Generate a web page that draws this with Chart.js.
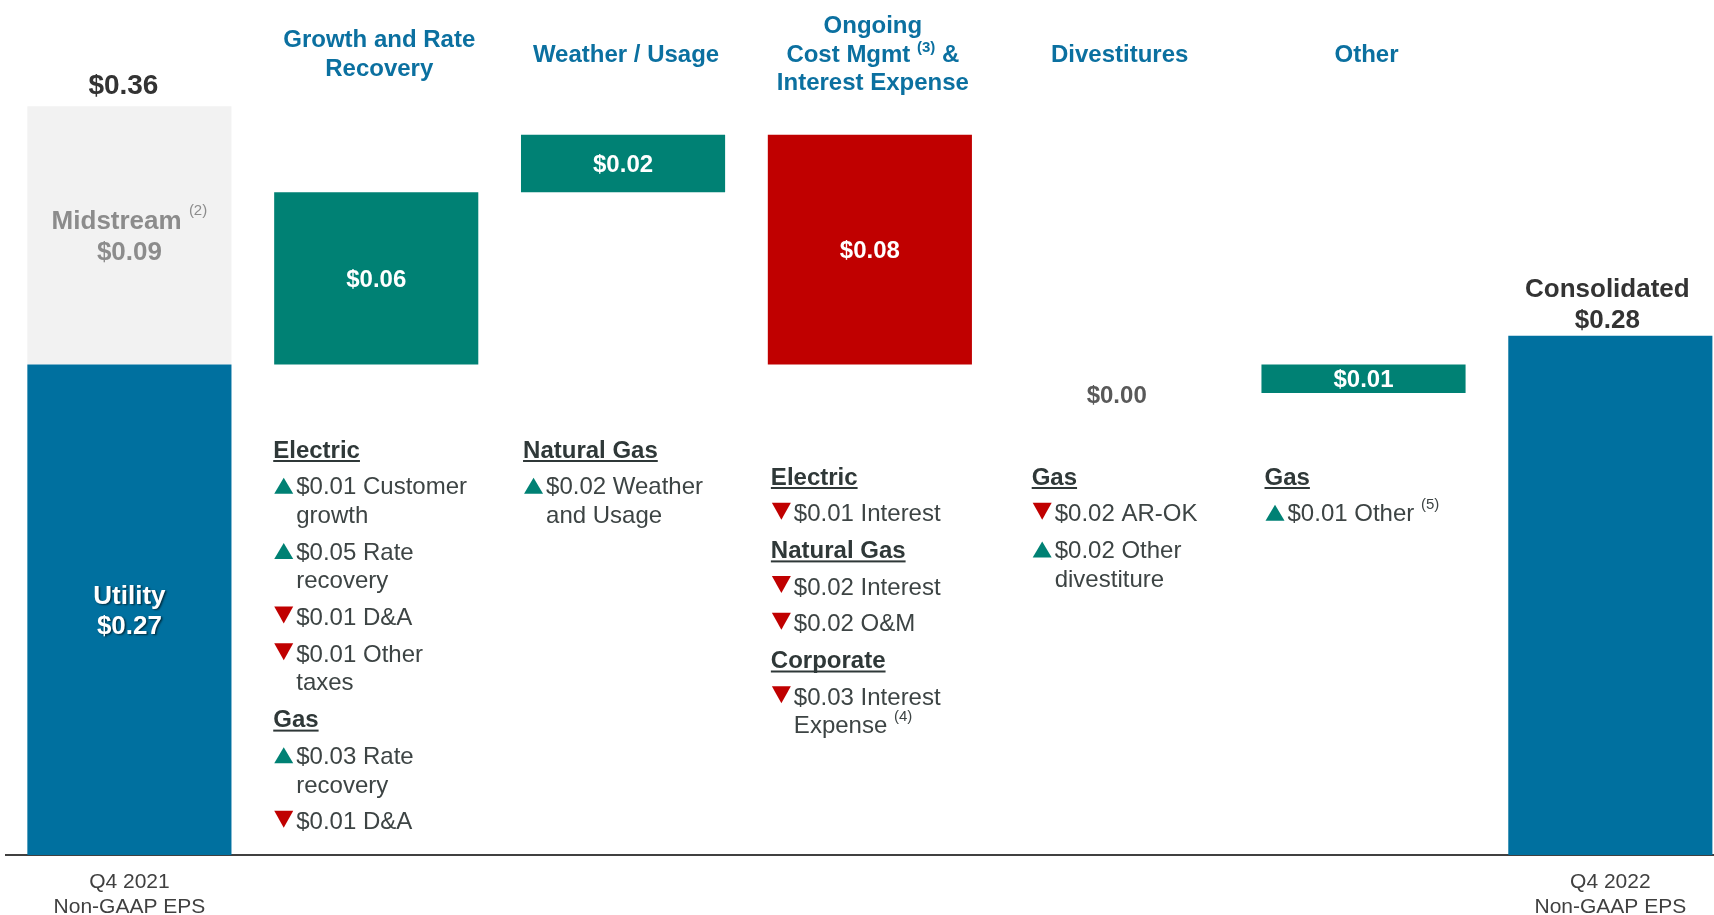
<!DOCTYPE html>
<html>
<head>
<meta charset="utf-8">
<script src="https://cdn.jsdelivr.net/npm/chart.js@4.4.0/dist/chart.umd.min.js"></script>
<style>
  html, body { margin: 0; padding: 0; background: #fff; overflow: hidden; }
</style>
</head>
<body>
<canvas id="eps" width="1714" height="915"></canvas>
<script>
// EPS bridge, Q4 2021 -> Q4 2022 (non-GAAP)
const categories = ['Q4 2021 Non-GAAP EPS', 'Growth and Rate Recovery', 'Weather / Usage',
    'Ongoing Cost Mgmt & Interest Expense', 'Divestitures', 'Other', 'Q4 2022 Non-GAAP EPS'];
const stepStart = [0, 0.27, 0.33, 0.35, 0.27, 0.26, 0];
const stepEnd   = [0.27, 0.33, 0.35, 0.27, 0.27, 0.27, 0.28];
const changes   = [0.36, 0.06, 0.02, -0.08, 0.00, 0.01, 0.28];
const midstream = [0.27, 0.36];
const xLabels = [['Q4 2021', 'Non-GAAP EPS'], '', '', '', '', '', ['Q4 2022', 'Non-GAAP EPS']];

// {n} = footnote mark
const titles = [null, ['Growth and Rate', 'Recovery'], ['Weather / Usage'],
    ['Ongoing', 'Cost Mgmt {3} &', 'Interest Expense'], ['Divestitures'], ['Other'], null];

const notes = [
    null,
    [['h', 'Electric'], ['up', '$0.01 Customer', 'growth'], ['up', '$0.05 Rate', 'recovery'],
     ['down', '$0.01 D&A'], ['down', '$0.01 Other', 'taxes'], ['h', 'Gas'],
     ['up', '$0.03 Rate', 'recovery'], ['down', '$0.01 D&A']],
    [['h', 'Natural Gas'], ['up', '$0.02 Weather', 'and Usage']],
    [['h', 'Electric'], ['down', '$0.01 Interest'], ['h', 'Natural Gas'], ['down', '$0.02 Interest'],
     ['down', '$0.02 O&M'], ['h', 'Corporate'], ['down', '$0.03 Interest', 'Expense {4}']],
    [['h', 'Gas'], ['down', '$0.02 AR-OK'], ['up', '$0.02 Other', 'divestiture']],
    [['h', 'Gas'], ['up', '$0.01 Other {5}']],
    null
];

const FONT = '"Liberation Sans", Arial, Helvetica, sans-serif';
const BLUE = '#00709F', TEAL = '#008174', RED = '#C00000';
const noteX = [0, -102, -99, -98, -84, -98, 0];
const noteTop = [0, 449, 449, 476, 476, 476, 0];

const money = v => '$' + Math.abs(v).toFixed(2);

function runs(str) {
    return str.split(/(\{\d\})/).filter(s => s).map(s =>
        s[0] === '{' ? {t: '(' + s.slice(1, -1) + ')', sup: true} : {t: s, sup: false});
}

// y is the visual middle of the capitals; rise lifts the footnote mark's middle
function drawText(ctx, str, x, y, size, weight, align, supWeight, rise) {
    const font = weight + ' ' + size + 'px ' + FONT;
    const supFont = (supWeight || 'normal') + ' 15px ' + FONT;
    const parts = runs(str);
    let w = 0;
    parts.forEach(p => { ctx.font = p.sup ? supFont : font; p.w = ctx.measureText(p.t).width; w += p.w; });
    let cx = align === 'center' ? x - w / 2 : x;
    ctx.textAlign = 'left';
    ctx.textBaseline = 'alphabetic';
    parts.forEach(p => {
        ctx.font = p.sup ? supFont : font;
        ctx.fillText(p.t, cx, p.sup ? y - rise + 3.9 : y + 0.358 * size);
        cx += p.w;
    });
    return w;
}

function triangle(ctx, x, y, up) {
    ctx.beginPath();
    if (up) {
        ctx.moveTo(x + 9.5, y - 8); ctx.lineTo(x + 19, y + 8); ctx.lineTo(x, y + 8);
    } else {
        ctx.moveTo(x, y - 10); ctx.lineTo(x + 19, y - 10); ctx.lineTo(x + 9.5, y + 7);
    }
    ctx.closePath();
    ctx.fillStyle = up ? TEAL : RED;
    ctx.fill();
}

const annotate = {
    id: 'annotate',
    afterDatasetsDraw(chart) {
        const {ctx, chartArea} = chart;
        const bars = chart.getDatasetMeta(0).data;
        const mid = chart.getDatasetMeta(1).data[0];
        const top = b => Math.min(b.y, b.base), bot = b => Math.max(b.y, b.base);
        ctx.save();

        // headings
        ctx.fillStyle = '#0B70A0';
        titles.forEach((lines, i) => {
            if (!lines) return;
            const y0 = 53 - (lines.length - 1) * 28.5 / 2;
            lines.forEach((s, k) => drawText(ctx, s, bars[i].x + 3, y0 + k * 28.5, 24, 'bold', 'center', 'bold', 5));
        });

        // Q4 2021 column
        const b0 = bars[0];
        ctx.fillStyle = '#333333';
        drawText(ctx, money(changes[0]), b0.x - 6, top(mid) - 22, 28, 'bold', 'center');
        const mc = (top(mid) + bot(mid)) / 2;
        ctx.fillStyle = '#8C8C8C';
        drawText(ctx, 'Midstream {2}', b0.x, mc - 15.5, 26, 'bold', 'center', 'normal', 9);
        drawText(ctx, money(midstream[1] - midstream[0]), b0.x, mc + 15.5, 26, 'bold', 'center');
        const uc = (top(b0) + Math.min(bot(b0), chartArea.bottom)) / 2;
        ctx.save();
        ctx.shadowColor = 'rgba(0,0,0,0.6)';
        ctx.shadowOffsetX = 1.5; ctx.shadowOffsetY = 1.5; ctx.shadowBlur = 2;
        ctx.fillStyle = '#ffffff';
        drawText(ctx, 'Utility', b0.x, uc - 15, 26, 'bold', 'center');
        drawText(ctx, money(stepEnd[0] - stepStart[0]), b0.x, uc + 15, 26, 'bold', 'center');
        ctx.restore();

        // bridge steps
        for (let i = 1; i < 6; i++) {
            const b = bars[i];
            if (changes[i] === 0) {
                ctx.fillStyle = '#595959';
                drawText(ctx, money(changes[i]), b.x, top(b) + 30, 24, 'bold', 'center');
            } else {
                ctx.fillStyle = '#ffffff';
                drawText(ctx, money(changes[i]), b.x, (top(b) + bot(b)) / 2, 24, 'bold', 'center');
            }
        }

        // Q4 2022 column
        const bl = bars[6];
        ctx.fillStyle = '#333333';
        drawText(ctx, 'Consolidated', bl.x - 3, top(bl) - 48, 26, 'bold', 'center');
        drawText(ctx, money(changes[6]), bl.x - 3, top(bl) - 17, 26, 'bold', 'center');

        // driver notes
        notes.forEach((list, i) => {
            if (!list) return;
            const x = bars[i].x + noteX[i];
            let y = noteTop[i];
            list.forEach(n => {
                if (n[0] === 'h') {
                    ctx.fillStyle = '#2F3838';
                    const w = drawText(ctx, n[1], x - 1, y, 24, 'bold', 'left');
                    ctx.fillRect(x - 1, y + 11, w, 2);
                    y += 36.7;
                    return;
                }
                triangle(ctx, x, y, n[0] === 'up');
                ctx.fillStyle = '#3D4444';
                n.slice(1).forEach(line => {
                    drawText(ctx, line, x + 22, y, 24, 'normal', 'left', 'normal', 8);
                    y += 28.7;
                });
                y += 8;
            });
        });
        ctx.restore();
    }
};

new Chart(document.getElementById('eps'), {
    type: 'bar',
    data: {
        datasets: [{
            label: 'EPS',
            data: categories.map((c, i) => ({x: i, y: [stepStart[i], stepEnd[i]]})),
            backgroundColor: changes.map((v, i) => (i === 0 || i === changes.length - 1) ? BLUE : (v < 0 ? RED : TEAL)),
            grouped: false,
            barPercentage: 0.827,
            categoryPercentage: 1,
            order: 1
        }, {
            label: 'Midstream',
            data: [{x: 0, y: midstream}],
            backgroundColor: '#F2F2F2',
            grouped: false,
            barPercentage: 0.827,
            categoryPercentage: 1,
            order: 2
        }]
    },
    options: {
        responsive: false,
        devicePixelRatio: 1,
        animation: false,
        layout: {padding: {left: 6, right: 0, top: 0, bottom: 0}},
        plugins: {legend: {display: false}, tooltip: {enabled: false}},
        scales: {
            x: {
                type: 'linear',
                offset: false,
                min: -0.5,
                max: 6.42,
                grid: {display: false, drawTicks: false, offset: false},
                border: {display: true, color: '#404040', width: 2},
                afterBuildTicks: axis => { axis.ticks = [{value: 0}, {value: 6}]; },
                afterFit: axis => { axis.height = 60; },
                ticks: {
                    autoSkip: false,
                    maxRotation: 0,
                    padding: 14.5,
                    color: '#404040',
                    font: {family: FONT, size: 21, lineHeight: 1.2},
                    callback: v => xLabels[v]
                }
            },
            y: {
                display: false,
                min: 0.099,
                max: 0.397
            }
        }
    },
    plugins: [annotate]
});
</script>
</body>
</html>
